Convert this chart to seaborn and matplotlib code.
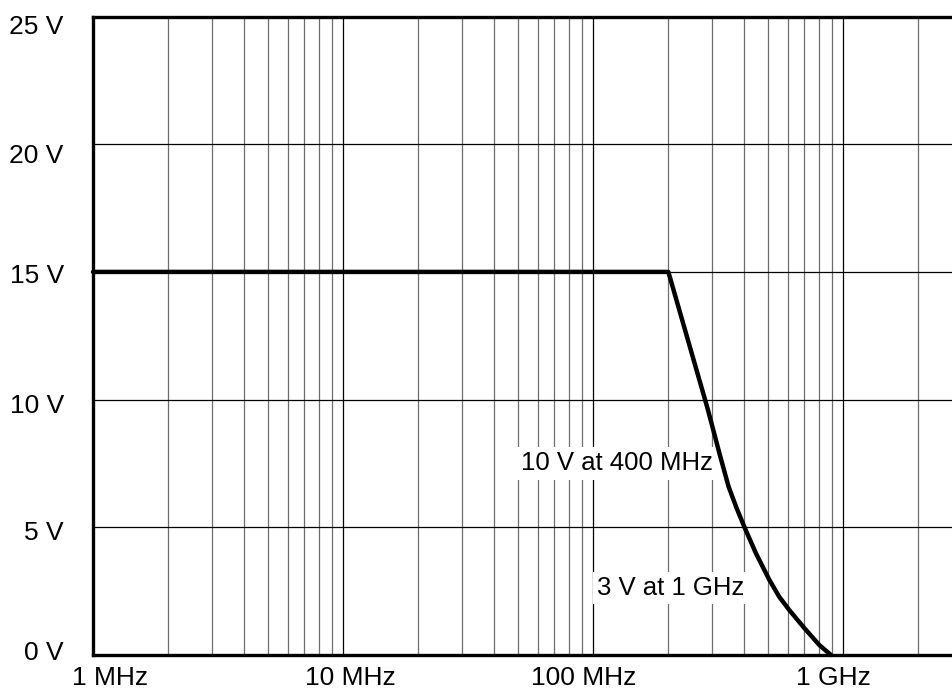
import numpy as np
import pandas as pd
import seaborn as sns
import matplotlib.pyplot as plt
import matplotlib.transforms as mtransforms
from matplotlib.ticker import NullLocator

# frequency (MHz) vs max voltage
freq_mhz = [1, 200, 287, 320, 348, 375, 402, 448, 507, 555, 609, 700, 803, 894]
volts = [15, 15, 9.65, 7.9, 6.6, 5.75, 5.03, 3.98, 2.94, 2.28, 1.76, 1.05, 0.39, 0]

x_ticks = [1e6, 1e7, 1e8, 1e9]
x_labels = ['1 MHz', '10 MHz', '100 MHz', '1 GHz']
y_ticks = [0, 5, 10, 15, 20, 25]
y_labels = ['0 V', '5 V', '10 V', '15 V', '20 V', '25 V']

df = pd.DataFrame({'freq': np.array(freq_mhz) * 1e6, 'volts': volts})

sns.set_style('white')
plt.rcParams['font.family'] = ['Liberation Sans', 'DejaVu Sans']
plt.rcParams['text.color'] = 'black'
plt.rcParams['xtick.color'] = 'black'
plt.rcParams['ytick.color'] = 'black'

fig = plt.figure(figsize=(9.53, 6.94), dpi=100)
ax = fig.add_axes([0.0976, 0.0562, 0.9024, 0.92])

ax.set_xscale('log')
ax.set_xlim(1e6, 2.75e9)
ax.set_ylim(0, 25)

# grid: minor decades grey, decade lines and horizontal lines black
minor = [m * 10 ** e for e in range(6, 10) for m in range(2, 10) if m * 10 ** e < 2.75e9]
for f in minor:
    ax.axvline(f, color='#6e6e6e', lw=0.9, zorder=1)
for f in x_ticks[1:]:
    ax.axvline(f, color='black', lw=0.9, zorder=1)
for v in y_ticks[1:-1]:
    ax.axhline(v, color='black', lw=0.9, zorder=1)

sns.lineplot(data=df, x='freq', y='volts', color='black', lw=3.2, ax=ax,
             zorder=5, clip_on=False, solid_capstyle='round', solid_joinstyle='round')

ax.set_xticks(x_ticks, x_labels)
ax.xaxis.set_minor_locator(NullLocator())
ax.set_yticks(y_ticks, y_labels)
ax.tick_params(axis='both', length=0, labelsize=19)
ax.tick_params(axis='y', pad=21)
ax.tick_params(axis='x', pad=8)
ax.set_xlabel('')
ax.set_ylabel('')

# small per-label nudges (points) to sit like the original
x_shift = [12, 5, -7, -7]
for lab, dx in zip(ax.get_xticklabels(), x_shift):
    lab.set_transform(lab.get_transform() + mtransforms.ScaledTranslation(dx / 72, 0, fig.dpi_scale_trans))
y_shift = [3, -2, -3, -1.5, -6.5, -6]
for lab, dy in zip(ax.get_yticklabels(), y_shift):
    lab.set_transform(lab.get_transform() + mtransforms.ScaledTranslation(0, dy / 72, fig.dpi_scale_trans))

for side in ['left', 'top', 'bottom']:
    ax.spines[side].set_linewidth(2.4)
    ax.spines[side].set_color('black')
    ax.spines[side].set_zorder(6)
ax.spines['right'].set_visible(False)

box = dict(facecolor='white', edgecolor='none', pad=3)
ax.text(1.24e8, 7.5, '10 V at 400 MHz', ha='center', va='center',
        fontsize=18.5, bbox=box, zorder=4)
ax.text(2.05e8, 2.62, '3 V at 1 GHz', ha='center', va='center',
        fontsize=18.5, bbox=box, zorder=4)

fig.savefig('out.png', dpi=100)
